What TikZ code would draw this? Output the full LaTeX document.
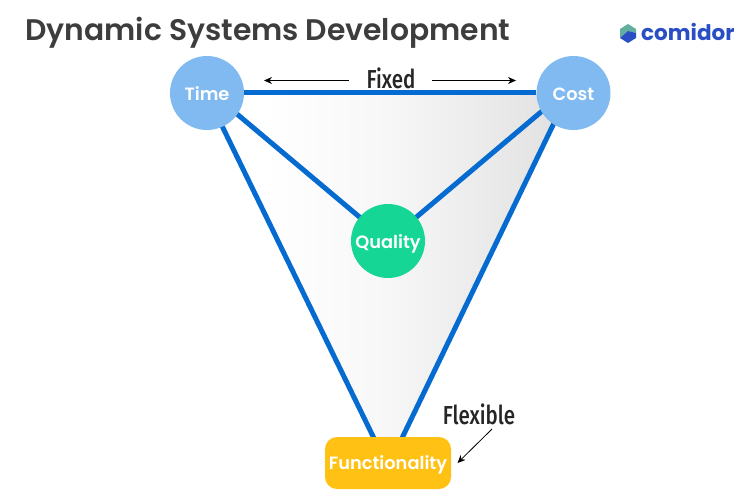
\documentclass[tikz,border=0pt]{standalone}
\usepackage{fontspec}
\setmainfont{Poppins}[BoldFont={Poppins SemiBold}]
\newfontfamily\logofont{Poppins}[BoldFont={Poppins Bold}]
\newfontfamily\handfont{Fira Sans}[BoldFont={Fira Sans Medium}]
\usetikzlibrary{backgrounds,arrows.meta}
\definecolor{linkblue}{HTML}{066BD0}
\definecolor{circblue}{HTML}{80BAF0}
\definecolor{qgreen}{HTML}{16D696}
\definecolor{fyellow}{HTML}{FFC114}
\definecolor{titlegray}{HTML}{3D3D3D}
\definecolor{logoblue}{HTML}{2A4FC4}
\definecolor{logoteal}{HTML}{62AFA0}
\definecolor{shmid}{HTML}{F7F7F7}
\definecolor{shright}{HTML}{E0E0E0}
\pgfdeclarehorizontalshading{trishade}{100bp}{color(0bp)=(white); color(33bp)=(white); color(50bp)=(shmid); color(75bp)=(shright); color(100bp)=(shright)}
\tikzset{
  x=1pt,y=-1pt,
  circnode/.style={circle,minimum size=74pt,inner sep=0pt,text=white,text height=14pt,text depth=0pt,font=\fontsize{17.8}{20}\selectfont\bfseries},
  timecost/.style={circnode,fill=circblue},
  funcbox/.style={fill=fyellow,rounded corners=12pt,minimum width=126pt,minimum height=52pt,inner sep=0pt,text=white,text height=12pt,text depth=0pt,font=\fontsize{17.8}{20}\selectfont\bfseries},
  link/.style={draw=linkblue,line width=5pt},
  handlabel/.style={font=\fontsize{26}{28}\handfont\bfseries,text=black!85,inner sep=0pt,xscale=.79},
  thinarrow/.style={draw=black,line width=.8pt,-{Stealth[length=8pt,width=7pt]}},
}
\begin{document}
\begin{tikzpicture}
\useasboundingbox (0,0) rectangle (751,500);
\node[anchor=west,inner sep=0pt,text=titlegray,font=\fontsize{29.8}{34}\selectfont\bfseries] (title) at (25,32.5) {Dynamic Systems Development};
\node[timecost] (time) at (207,93) {Time};
\node[timecost] (cost) at (573.5,93) {Cost};
\node[circnode,fill=qgreen] (quality) at (388,241) {Quality};
\node[funcbox] (func) at (388,463) {Functionality};
\begin{pgfonlayer}{background}
  \shade[shading=trishade] ([xshift=-1pt]time.center) -- ([xshift=-5pt]cost.center) -- ([xshift=2pt]func.center) -- cycle;
  \draw[link] (time) -- (cost);
  \draw[link] ([xshift=5pt]time.center) -- (quality.center);
  \draw[link] ([xshift=-10pt]cost.center) -- (quality.center);
  \draw[link] ([xshift=-1pt]time.center) -- ([xshift=-2pt]func.center);
  \draw[link] ([xshift=-5pt]cost.center) -- ([xshift=2pt]func.center);
\end{pgfonlayer}
\node[handlabel] (fixed) at (391,78) {Fixed};
\node[handlabel] (flex) at (479,414) {Flexible};
\coordinate (fl) at (349,80.5); \coordinate (flt) at (264,80.5);
\coordinate (fr) at (432,80.5); \coordinate (frt) at (516,80.5);
\coordinate (fa) at (492,429); \coordinate (fat) at (457.5,463);
\draw[thinarrow] (fl) -- (flt);
\draw[thinarrow] (fr) -- (frt);
\draw[thinarrow] (fa) -- (fat);
% logo
\fill[logoteal] (620,29) -- (628,24) -- (636,29) -- (636,33) -- (628,31) -- (620,38) -- cycle;
\fill[logoblue] (620,38) -- (628,43) -- (636,38) -- (636,33) -- (628,31) -- cycle;
\node[anchor=west,inner sep=0pt,text=logoblue,font=\fontsize{21.5}{26}\logofont\bfseries] (logo) at (641,31.5) {comidor};
\end{tikzpicture}
\end{document}
